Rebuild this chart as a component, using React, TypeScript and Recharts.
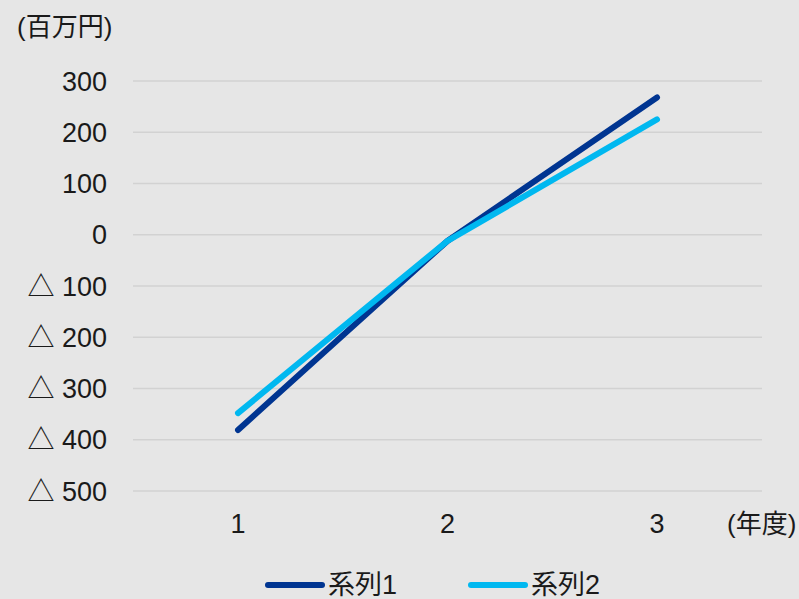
import { LineChart, Line, XAxis, YAxis, CartesianGrid } from "recharts";

const years = ["1", "2", "3"];
const series1 = [-381, -12, 268];
const series2 = [-348, -12, 225];
const yTicks = [-500, -400, -300, -200, -100, 0, 100, 200, 300];

const data = years.map((y, i) => ({ year: y, s1: series1[i], s2: series2[i] }));

const FONT = '"Liberation Sans", Arial, "Noto Sans CJK JP", sans-serif';
const BG = "#e6e6e6";
const NAVY = "#003591";
const CYAN = "#00b8f0";
const TEXT = "#1a1a1a";

const fmt = (v: number) => (v < 0 ? `△ ${Math.abs(v)}` : `${v}`);

const legendItems = [
  { name: "系列1", color: NAVY, left: 265 },
  { name: "系列2", color: CYAN, left: 468 },
];

export default function App() {
  return (
    <div style={{ position: "absolute", left: 0, top: 0, width: 799, height: 599, background: BG, fontFamily: FONT, color: TEXT }}>
      <div style={{ position: "absolute", left: 17, top: 13, fontSize: 26, lineHeight: "28px" }}>(百万円)</div>
      <div style={{ position: "absolute", left: 727, top: 510, fontSize: 26, lineHeight: "28px" }}>(年度)</div>
      <LineChart width={799} height={599} data={data} margin={{ top: 81, right: 37, bottom: 78, left: 8 }}>
        <CartesianGrid vertical={false} stroke="#d2d2d2" strokeWidth={1.5} />
        <XAxis
          dataKey="year"
          height={30}
          axisLine={false}
          tickLine={false}
          padding={{ left: 105, right: 105 }}
          tickMargin={17}
          tick={{ fontSize: 27, fill: TEXT, fontFamily: FONT }}
        />
        <YAxis
          domain={[-500, 300]}
          ticks={yTicks}
          interval={0}
          width={125}
          axisLine={false}
          tickLine={false}
          tickMargin={20}
          tickFormatter={fmt}
          tick={{ fontSize: 27, fill: TEXT, fontFamily: FONT }}
        />
        <Line dataKey="s1" name="系列1" stroke={NAVY} strokeWidth={6} dot={false} isAnimationActive={false} strokeLinecap="round" />
        <Line dataKey="s2" name="系列2" stroke={CYAN} strokeWidth={6} dot={false} isAnimationActive={false} strokeLinecap="round" />
      </LineChart>
      {legendItems.map((item) => (
        <div
          key={item.name}
          style={{ position: "absolute", left: item.left, top: 570, height: 30, display: "flex", alignItems: "center", fontSize: 27 }}
        >
          <span style={{ display: "inline-block", width: 60, height: 6, borderRadius: 3, background: item.color, marginRight: 3 }} />
          <span style={{ lineHeight: "30px" }}>{item.name}</span>
        </div>
      ))}
    </div>
  );
}
